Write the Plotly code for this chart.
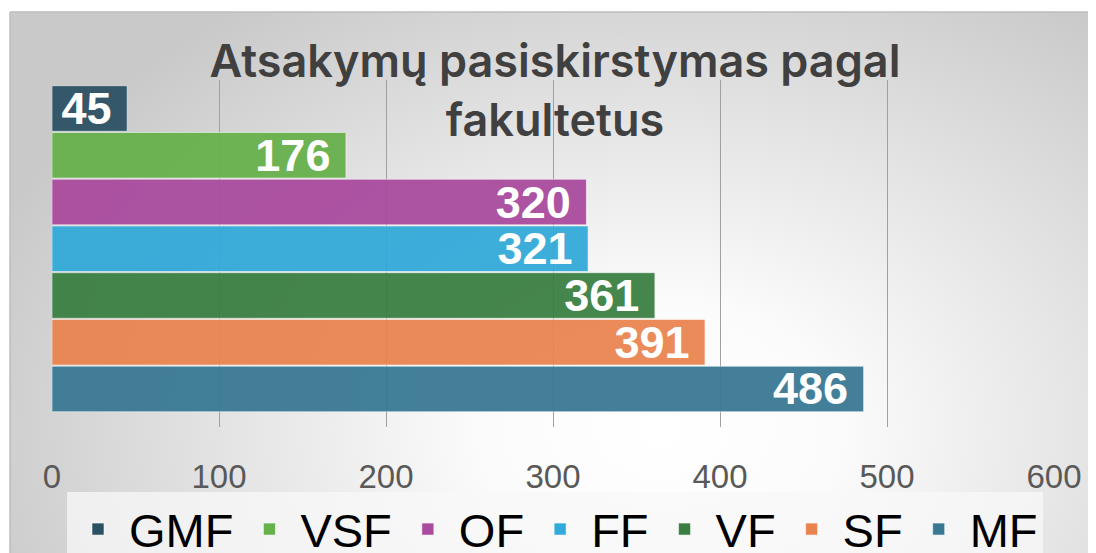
import plotly.graph_objects as go

# page body adds an 8px margin; the figure is sized so that it ends at the window edge
OFF = 8
W, H = 1096 - OFF, 553 - OFF

# ---- data ----
faculties = ["GMF", "VSF", "OF", "FF", "VF", "SF", "MF"]
responses = [45, 176, 320, 321, 361, 391, 486]
colors = ["#2b5064", "#67b14b", "#a94a9e", "#32aad9", "#3a7f42", "#ea844f", "#387893"]
x_ticks = [0, 100, 200, 300, 400, 500, 600]
title_text = "Atsakymų pasiskirstymas pagal<br>fakultetus"


def px_x(x):  # reference-window pixel -> paper fraction
    return (x - OFF) / W


def px_y(y):
    return (H - (y - OFF)) / H


fig = go.Figure()

# ---- radial gradient background (decorative, on its own full-size subplot) ----
cx, cy, rw, rh = 652, 422, 720, 520
fig.add_trace(go.Scatter(
    x=[cx - rw, cx + rw, cx + rw, cx - rw, cx - rw],
    y=[cy - rh, cy - rh, cy + rh, cy + rh, cy - rh],
    mode="lines", line=dict(width=0), fill="toself",
    fillgradient=dict(type="radial",
                      colorscale=[[0, "#ffffff"], [0.25, "#fbfbfb"], [0.6, "#e4e4e4"], [1, "#c9c9c9"]]),
    hoverinfo="skip", showlegend=False, xaxis="x", yaxis="y"))

# ---- bars ----
for name, val, col in zip(faculties, responses, colors):
    fig.add_trace(go.Bar(
        x=[val], y=[name], name=name, orientation="h",
        marker=dict(color=col, opacity=0.94, line=dict(color="rgba(255,255,255,0.55)", width=1)),
        texttemplate="%{x} ", textposition="inside", insidetextanchor="end",
        constraintext="none", textangle=0,
        textfont=dict(family="Liberation Sans", size=45, color="white", weight="bold"),
        xaxis="x2", yaxis="y2", hoverinfo="x+name"))

fig.update_layout(
    width=W, height=H,
    margin=dict(l=0, r=0, t=0, b=0, autoexpand=False),
    paper_bgcolor="white", plot_bgcolor="rgba(0,0,0,0)",
    barmode="overlay", bargap=0.025,
    title=dict(text=title_text, x=px_x(555), xanchor="center", y=1 - 69 / H, yanchor="top",
               font=dict(family="Inter", size=45, color="#404040", weight=600)),
    xaxis=dict(domain=[px_x(10), 1], range=[2, W], visible=False, fixedrange=True),
    yaxis=dict(domain=[0, px_y(12)], range=[H, 4], visible=False, fixedrange=True),
    xaxis2=dict(domain=[px_x(52), px_x(1054)], range=[0, 600], anchor="y2",
                tickvals=x_ticks, showgrid=True, gridcolor="#a0a0a0", gridwidth=1,
                zeroline=False, showline=False, ticks="",
                ticklabelstandoff=27,
                tickfont=dict(family="Liberation Sans", size=33, color="#595959")),
    yaxis2=dict(domain=[px_y(427), px_y(80)], anchor="x2", type="category",
                categoryorder="array", categoryarray=faculties[::-1],
                range=[-0.813, 6.61], showticklabels=False, showgrid=False,
                zeroline=False, showline=False),
    legend=dict(orientation="h", x=px_x(67), xanchor="left", y=px_y(492), yanchor="top",
                itemwidth=52,
                bgcolor="rgba(248,248,248,0.75)",
                font=dict(family="Liberation Sans", size=47, color="black"),
                traceorder="normal"),
    shapes=[
        dict(type="line", xref="paper", yref="paper", x0=px_x(10), x1=px_x(10), y0=0, y1=px_y(12),
             line=dict(color="#bdbdbd", width=1.5)),
        dict(type="line", xref="paper", yref="paper", x0=px_x(10), x1=1, y0=px_y(12), y1=px_y(12),
             line=dict(color="#bdbdbd", width=1.5)),
    ],
)

fig.write_html("out.html")
